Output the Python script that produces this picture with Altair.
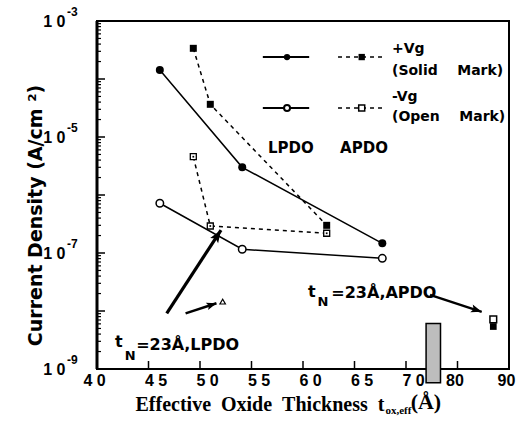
import altair as alt
import pandas as pd

# ---------------- data ----------------
x_lpdo = [46.1, 54.1, 67.7]
j_lpdo_pos = [1.43e-4, 3.0e-6, 1.47e-7]    # solid line, solid circle (+Vg)
j_lpdo_neg = [7.2e-7, 1.16e-7, 8.1e-8]     # solid line, open circle (-Vg)
x_apdo = [49.35, 51.0, 62.3]
j_apdo_pos = [3.38e-4, 3.66e-5, 3.0e-7]    # dashed line, solid square (+Vg)
j_apdo_neg = [4.57e-6, 2.92e-7, 2.19e-7]   # dashed line, open square (-Vg)

tn_lpdo_x = [52.2]
tn_lpdo_j = [1.45e-8]
tn_apdo_x = [86.95]
tn_apdo_pos = [5.4e-9]
tn_apdo_neg = [7.2e-9]

band_x = [73.9, 76.7]
band_j = [6.1e-9, 5.8e-10]

x_tick_values = [40, 45, 50, 55, 60, 65, 70, 80, 90]
x_inner_ticks = [45, 50, 55, 60, 65, 70, 80]
y_tick_values = [1e-3, 1e-5, 1e-7, 1e-9]
y_tick_exps = ["-3", "-5", "-7", "-9"]
y_major_ticks = [1e-8, 1e-7, 1e-6, 1e-5, 1e-4]
y_minor_ticks = [k * 10.0 ** e for e in range(-9, -3) for k in range(2, 10)]

arrow_x0 = [46.77, 48.6, 74.66]
arrow_j0 = [9.1e-9, 9.1e-9, 1.89e-8]
arrow_x1 = [52.04, 51.6, 84.7]
arrow_j1 = [2.49e-7, 1.36e-8, 9.7e-9]
arrow_width = [3.2, 2.6, 2.4]
arrow_angle = [33, 72, 108]
arrow_head = [110, 70, 80]

legend_rows_j = [2.39e-4, 3.16e-5]
legend_solid_x = [56.1, 60.6]
legend_dash_x = [63.4, 67.7]
legend_solid_marker_x = [58.45]
legend_dash_marker_x = [65.7]

NB = "\u00a0"
annot_text = ["+Vg", "(Solid" + NB * 4 + "Mark)", "-Vg", "(Open" + NB * 4 + "Mark)",
              "LPDO", "APDO", "t", "N", "=23Å,LPDO", "t", "N", "=23Å,APDO"]
annot_x = [68.64, 68.64, 68.64, 68.64, 56.6, 63.6, 41.75, 42.7, 43.8, 60.49, 61.4, 62.75]
annot_j = [2.81e-4, 1.17e-4, 4.18e-5, 1.89e-5, 5.3e-6, 5.3e-6,
           2.4e-9, 1.45e-9, 2.13e-9, 1.74e-8, 1.2e-8, 1.67e-8]
annot_size = [14, 14, 14, 14, 15, 15, 16, 13, 16, 16, 13, 16]

xtitle_text = ["ox,eff", "(Å)"]
xtitle_x = [68.0, 70.9]
xtitle_j = [1.68e-10, 2.04e-10]
xtitle_size = [11, 22]

# ---------------- scales / axes ----------------
W, H = 412, 348
xs = alt.Scale(domain=[40, 70, 90], range=[0, 309, W], zero=False, nice=False)
ys = alt.Scale(type="log", domain=[1e-9, 1e-3], nice=False)

xaxis = alt.Axis(
    values=x_tick_values,
    labelExpr="datum.value <= 70 ? floor(datum.value/10) + ' ' + (datum.value % 10) : '' + datum.value",
    grid=False, ticks=False, domain=False, labelFlush=False, labelOverlap=False,
    labelFont="Liberation Sans", labelFontWeight="bold", labelFontSize=16,
    labelColor="black", labelPadding=3,
    labelOffset={"condition": {"test": "datum.value > 40 && datum.value <= 70", "value": 7}, "value": -3},
    title="Effective" + NB * 2 + "Oxide" + NB * 2 + "Thickness" + NB * 2 + "t",
    titleFont="Liberation Serif", titleFontWeight="bold", titleFontSize=20,
    titleColor="black", titleX=38, titleY=41, titleAlign="left",
    titleBaseline="alphabetic", titleAnchor="start",
)
yaxis = alt.Axis(
    values=y_tick_values, labelExpr="'1 0'",
    grid=False, ticks=False, domain=False, labelOverlap=False, labelFlush=False,
    labelFont="Liberation Sans", labelFontWeight="bold", labelFontSize=16,
    labelColor="black", labelPadding=32, labelBaseline="middle",
    title="Current Density (A/cm ²)",
    titleFont="DejaVu Sans", titleFontWeight="bold", titleFontSize=19,
    titleColor="black", titleAngle=270, titleX=-62, titleY=194,
    titleAlign="center", titleBaseline="middle",
)


def X(f="x"):
    return alt.X(f + ":Q", scale=xs, axis=xaxis)


def Y(f="y"):
    return alt.Y(f + ":Q", scale=ys, axis=yaxis)


def df(xv, yv):
    return pd.DataFrame({"x": xv, "y": yv})


# ---------------- layers ----------------
band = alt.Chart(pd.DataFrame({"x": [band_x[0]], "x1": [band_x[1]],
                               "y": [band_j[0]], "y1": [band_j[1]]})).mark_rect(
    clip=False, fill="#bdbdbd", stroke="black", strokeWidth=1.5
).encode(x=X(), x2="x1:Q", y=Y(), y2="y1:Q")

yt_major = alt.Chart(pd.DataFrame({"y": y_major_ticks})).mark_rule(
    color="black", strokeWidth=1.5).encode(y=Y(), x=alt.value(0), x2=alt.value(8))
yt_minor = alt.Chart(pd.DataFrame({"y": y_minor_ticks})).mark_rule(
    color="black", strokeWidth=1.2).encode(y=Y(), x=alt.value(0), x2=alt.value(4))
xt = alt.Chart(pd.DataFrame({"x": x_inner_ticks})).mark_rule(
    color="black", strokeWidth=1.5).encode(x=X(), y=alt.value(H), y2=alt.value(H - 8))
left_edge = alt.Chart(pd.DataFrame({"y": [y_tick_values[0]], "y1": [y_tick_values[-1]]})).mark_rule(
    color="black", strokeWidth=3).encode(y=Y(), y2="y1:Q", x=alt.value(0))

line_solid_pos = alt.Chart(df(x_lpdo, j_lpdo_pos)).mark_line(color="black", strokeWidth=1.5).encode(x=X(), y=Y())
line_solid_neg = alt.Chart(df(x_lpdo, j_lpdo_neg)).mark_line(color="black", strokeWidth=1.5).encode(x=X(), y=Y())
line_dash_pos = alt.Chart(df(x_apdo, j_apdo_pos)).mark_line(
    color="black", strokeWidth=1.5, strokeDash=[4, 4]).encode(x=X(), y=Y())
line_dash_neg = alt.Chart(df(x_apdo, j_apdo_neg)).mark_line(
    color="black", strokeWidth=1.5, strokeDash=[4, 4]).encode(x=X(), y=Y())

pt_solid_circle = alt.Chart(df(x_lpdo, j_lpdo_pos)).mark_point(
    shape="circle", filled=True, color="black", size=64, opacity=1).encode(x=X(), y=Y())
pt_open_circle = alt.Chart(df(x_lpdo, j_lpdo_neg)).mark_point(
    shape="circle", filled=True, fill="white", stroke="black", strokeWidth=1.5, size=56, opacity=1
).encode(x=X(), y=Y())
pt_solid_square = alt.Chart(df(x_apdo, j_apdo_pos)).mark_point(
    shape="square", filled=True, color="black", size=49, opacity=1).encode(x=X(), y=Y())
pt_open_square = alt.Chart(df(x_apdo, j_apdo_neg)).mark_point(
    shape="square", filled=True, fill="white", stroke="black", strokeWidth=1.3, size=36, opacity=1
).encode(x=X(), y=Y())
pt_open_square_dot = alt.Chart(df(x_apdo, j_apdo_neg)).mark_point(
    shape="square", filled=True, color="black", size=3, opacity=1).encode(x=X(), y=Y())

pt_tn_lpdo = alt.Chart(df(tn_lpdo_x, tn_lpdo_j)).mark_point(
    shape="triangle-up", filled=True, fill="white", stroke="black", strokeWidth=1.2, size=30, opacity=1
).encode(x=X(), y=Y())
pt_tn_apdo_open = alt.Chart(df(tn_apdo_x, tn_apdo_neg)).mark_point(
    shape="square", filled=True, fill="white", stroke="black", strokeWidth=1.5, size=45, opacity=1
).encode(x=X(), y=Y())
pt_tn_apdo_solid = alt.Chart(df(tn_apdo_x, tn_apdo_pos)).mark_point(
    shape="square", filled=True, color="black", size=45, opacity=1).encode(x=X(), y=Y())

arrows_df = pd.DataFrame({"x": arrow_x0, "y": arrow_j0, "x1": arrow_x1, "y1": arrow_j1,
                          "w": arrow_width, "a": arrow_angle, "s": arrow_head})
arrow_shafts = alt.Chart(arrows_df).mark_rule(color="black", clip=False).encode(
    x=X(), y=Y(), x2="x1:Q", y2="y1:Q", strokeWidth=alt.StrokeWidth("w:Q", scale=None))
# arrowhead: tip at the symbol origin, pointing "up" before rotation
arrow_heads = alt.Chart(arrows_df).mark_point(
    shape="M0,0L-0.9,2.4L0,1.9L0.9,2.4Z", filled=True, color="black", opacity=1
).encode(x=alt.X("x1:Q", scale=xs, axis=xaxis), y=alt.Y("y1:Q", scale=ys, axis=yaxis),
         angle=alt.Angle("a:Q", scale=None), size=alt.Size("s:Q", scale=None))

leg_lines = pd.DataFrame({
    "x": [legend_solid_x[0], legend_solid_x[0], legend_dash_x[0], legend_dash_x[0]],
    "x1": [legend_solid_x[1], legend_solid_x[1], legend_dash_x[1], legend_dash_x[1]],
    "y": [legend_rows_j[0], legend_rows_j[1], legend_rows_j[0], legend_rows_j[1]],
})
leg_solid = alt.Chart(leg_lines.iloc[:2]).mark_rule(color="black", strokeWidth=2).encode(
    x=X(), x2="x1:Q", y=Y())
leg_dash = alt.Chart(leg_lines.iloc[2:]).mark_rule(color="black", strokeWidth=1.6, strokeDash=[4, 4]).encode(
    x=X(), x2="x1:Q", y=Y())
leg_p1 = alt.Chart(df(legend_solid_marker_x, [legend_rows_j[0]])).mark_point(
    shape="circle", filled=True, color="black", size=40, opacity=1).encode(x=X(), y=Y())
leg_p2 = alt.Chart(df(legend_dash_marker_x, [legend_rows_j[0]])).mark_point(
    shape="square", filled=True, color="black", size=40, opacity=1).encode(x=X(), y=Y())
leg_p3 = alt.Chart(df(legend_solid_marker_x, [legend_rows_j[1]])).mark_point(
    shape="circle", filled=True, fill="white", stroke="black", strokeWidth=2, size=36, opacity=1
).encode(x=X(), y=Y())
leg_p4 = alt.Chart(df(legend_dash_marker_x, [legend_rows_j[1]])).mark_point(
    shape="square", filled=True, fill="white", stroke="black", strokeWidth=1.5, size=36, opacity=1
).encode(x=X(), y=Y())

annots = alt.Chart(pd.DataFrame({"x": annot_x, "y": annot_j, "t": annot_text, "s": annot_size})).mark_text(
    font="DejaVu Sans", fontWeight="bold", color="black", align="left", baseline="alphabetic", clip=False
).encode(x=X(), y=Y(), text="t:N", size=alt.Size("s:Q", scale=None))

xtitle_parts = alt.Chart(pd.DataFrame({"x": xtitle_x, "y": xtitle_j, "t": xtitle_text, "s": xtitle_size})).mark_text(
    font="Liberation Serif", fontWeight="bold", color="black", align="left", baseline="alphabetic", clip=False
).encode(x=X(), y=Y(), text="t:N", size=alt.Size("s:Q", scale=None))

ysup = alt.Chart(pd.DataFrame({"x": [x_tick_values[0]] * len(y_tick_values), "y": y_tick_values,
                               "t": y_tick_exps})).mark_text(
    font="Liberation Sans", fontWeight="bold", fontSize=12, color="black",
    align="left", baseline="alphabetic", dx=-30, dy=-5, clip=False
).encode(x=X(), y=Y(), text="t:N")

chart = alt.layer(
    yt_major, yt_minor, xt, left_edge,
    line_solid_pos, line_solid_neg, line_dash_pos, line_dash_neg,
    arrow_shafts, arrow_heads,
    pt_solid_circle, pt_open_circle, pt_solid_square, pt_open_square, pt_open_square_dot,
    pt_tn_lpdo, pt_tn_apdo_open, pt_tn_apdo_solid,
    leg_solid, leg_dash, leg_p1, leg_p2, leg_p3, leg_p4,
    annots, xtitle_parts, ysup, band,
).properties(
    width=W, height=H,
    padding={"left": 97, "top": 21, "right": 526 - 97 - W, "bottom": 438 - 21 - H},
    autosize=alt.AutoSizeParams(type="none"),
    background="white",
).configure_view(stroke="black", strokeWidth=2)

chart.save("out.html", embed_options={"renderer": "svg", "actions": False})
